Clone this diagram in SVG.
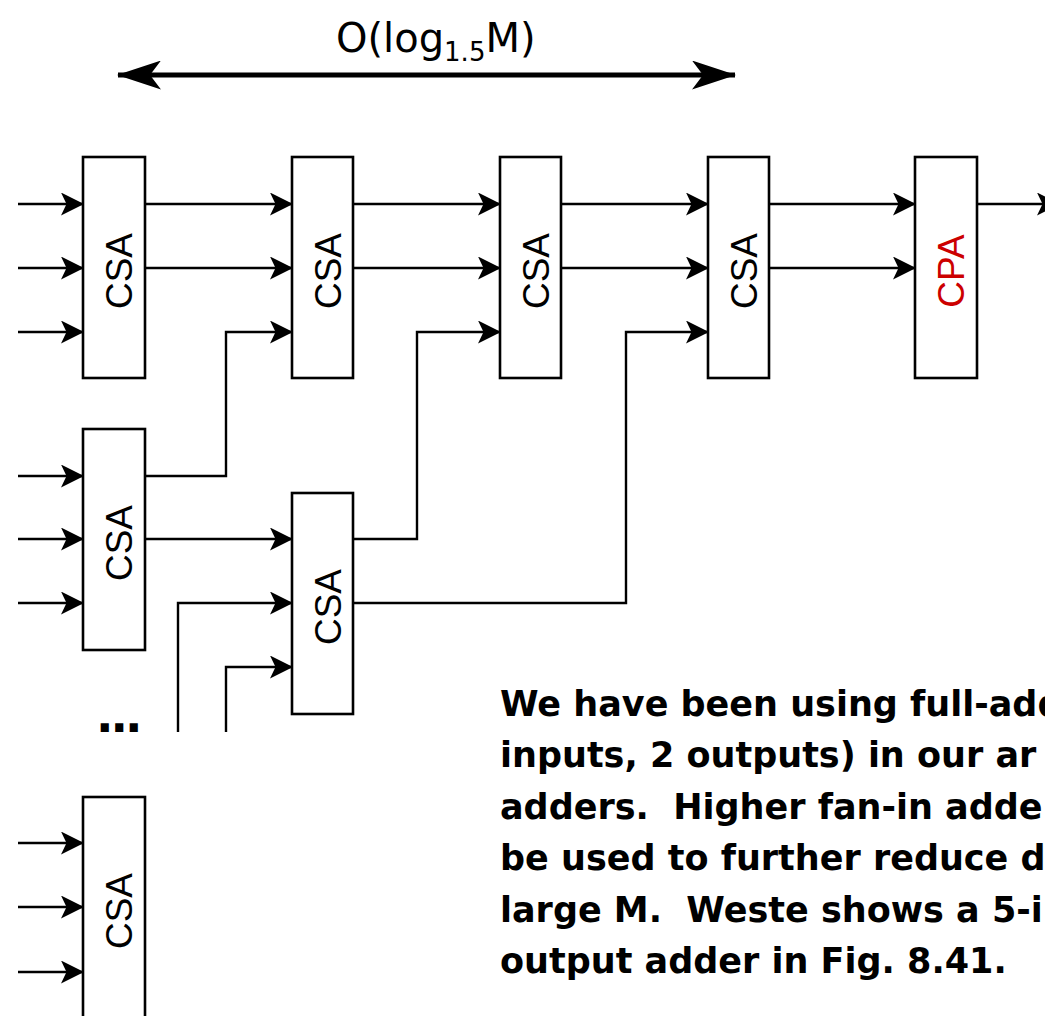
<svg xmlns="http://www.w3.org/2000/svg" width="1045" height="1016" viewBox="0 0 1045 1016">
<style>
.box{fill:#fff;stroke:#000;stroke-width:2.6}
.wire{fill:none;stroke:#000;stroke-width:2.4}
.lbl{font-family:"Liberation Sans",Arial,sans-serif;font-size:37px;text-anchor:middle;fill:#000}
.para{font-family:"DejaVu Sans",sans-serif;font-weight:bold;font-size:35px;fill:#000;white-space:pre}
.title{font-family:"DejaVu Sans",sans-serif;font-size:40px;fill:#000}
</style>
<defs>
<marker id="ah" markerUnits="userSpaceOnUse" markerWidth="23" markerHeight="23" refX="22" refY="11.5" orient="auto" viewBox="0 0 23 23">
<path d="M0,0 L23,11.5 L0,23 L5.5,11.5 Z" fill="#000"/>
</marker>
<marker id="big" markerUnits="userSpaceOnUse" markerWidth="44" markerHeight="29" refX="43" refY="14.5" orient="auto-start-reverse" viewBox="0 0 44 29">
<path d="M0,0 L44,14.5 L0,29 L11,14.5 Z" fill="#000"/>
</marker>
</defs>
<rect width="1045" height="1016" fill="#fff"/>

<g id="span">
<line x1="118" y1="75" x2="735" y2="75" stroke="#000" stroke-width="5" marker-start="url(#big)" marker-end="url(#big)"/>
<text class="title" x="336" y="52">O(log<tspan font-size="26" dy="9">1.5</tspan><tspan dy="-9">M)</tspan></text>
</g>

<g id="connectors">
<path class="wire" marker-end="url(#ah)" d="M18,204 H83"/>
<path class="wire" marker-end="url(#ah)" d="M18,268 H83"/>
<path class="wire" marker-end="url(#ah)" d="M18,332 H83"/>
<path class="wire" marker-end="url(#ah)" d="M18,476 H83"/>
<path class="wire" marker-end="url(#ah)" d="M18,539 H83"/>
<path class="wire" marker-end="url(#ah)" d="M18,603 H83"/>
<path class="wire" marker-end="url(#ah)" d="M18,843 H83"/>
<path class="wire" marker-end="url(#ah)" d="M18,907 H83"/>
<path class="wire" marker-end="url(#ah)" d="M18,972 H83"/>
<path class="wire" marker-end="url(#ah)" d="M145,204 H292"/>
<path class="wire" marker-end="url(#ah)" d="M145,268 H292"/>
<path class="wire" marker-end="url(#ah)" d="M353,204 H500"/>
<path class="wire" marker-end="url(#ah)" d="M353,268 H500"/>
<path class="wire" marker-end="url(#ah)" d="M561,204 H708"/>
<path class="wire" marker-end="url(#ah)" d="M561,268 H708"/>
<path class="wire" marker-end="url(#ah)" d="M769,204 H915"/>
<path class="wire" marker-end="url(#ah)" d="M769,268 H915"/>
<path class="wire" marker-end="url(#ah)" d="M977,204 H1059"/>
<path class="wire" marker-end="url(#ah)" d="M145,476 H226 V332 H292"/>
<path class="wire" marker-end="url(#ah)" d="M145,539 H292"/>
<path class="wire" marker-end="url(#ah)" d="M353,539 H417 V332 H500"/>
<path class="wire" marker-end="url(#ah)" d="M353,603 H626 V332 H708"/>
<path class="wire" marker-end="url(#ah)" d="M178,732 V603 H292"/>
<path class="wire" marker-end="url(#ah)" d="M226,732 V667 H292"/>
</g>

<g id="csa1"><rect class="box" x="83" y="157" width="62" height="221"/><text class="lbl" transform="translate(132,271) rotate(-90)">CSA</text></g>
<g id="csa2"><rect class="box" x="292" y="157" width="61" height="221"/><text class="lbl" transform="translate(341,271) rotate(-90)">CSA</text></g>
<g id="csa3"><rect class="box" x="500" y="157" width="61" height="221"/><text class="lbl" transform="translate(549,271) rotate(-90)">CSA</text></g>
<g id="csa4"><rect class="box" x="708" y="157" width="61" height="221"/><text class="lbl" transform="translate(757,271) rotate(-90)">CSA</text></g>
<g id="cpa"><rect class="box" x="915" y="157" width="62" height="221"/><text class="lbl" style="fill:#CC0000" transform="translate(964,271) rotate(-90)">CPA</text></g>
<g id="csa5"><rect class="box" x="83" y="429" width="62" height="221"/><text class="lbl" transform="translate(132,543) rotate(-90)">CSA</text></g>
<g id="csa6"><rect class="box" x="292" y="493" width="61" height="221"/><text class="lbl" transform="translate(341,607) rotate(-90)">CSA</text></g>
<g id="csa7"><rect class="box" x="83" y="797" width="62" height="230"/><text class="lbl" transform="translate(132,911) rotate(-90)">CSA</text></g>

<g id="dots"><text class="para" x="96" y="732" style="font-size:46px;letter-spacing:-3px">...</text></g>

<g id="note">
<text class="para" x="500" y="716">We have been using full-add</text>
<text class="para" x="500" y="767">inputs, 2 outputs) in our ar</text>
<text class="para" x="500" y="819">adders.  Higher fan-in adde</text>
<text class="para" x="500" y="870">be used to further reduce d</text>
<text class="para" x="500" y="922">large M.  Weste shows a 5-i</text>
<text class="para" x="500" y="973">output adder in Fig. 8.41.</text>
</g>
</svg>
